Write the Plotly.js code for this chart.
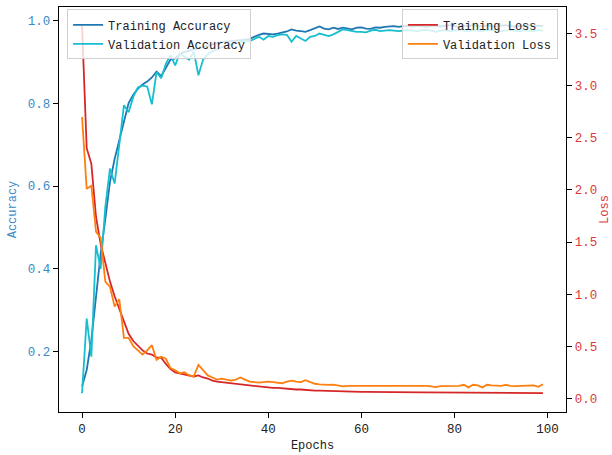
<!DOCTYPE html>
<html>
<head>
<meta charset="utf-8">
<script src="https://cdn.plot.ly/plotly-3.0.1.min.js"></script>
<style>html,body{margin:0;padding:0;background:#fff;}#chart{width:612px;height:455px;}</style>
</head>
<body>
<div id="chart"></div>
<script>
const epochs = Array.from({length: 100}, (_, i) => i);

const trainAcc = [0.116,0.156,0.228,0.333,0.437,0.52,0.61,0.665,0.71,0.76,
0.80,0.82,0.835,0.845,0.852,0.862,0.876,0.865,0.885,0.905,
0.908,0.918,0.924,0.926,0.93,0.933,0.937,0.94,0.943,0.945,
0.947,0.948,0.95,0.951,0.952,0.953,0.955,0.96,0.965,0.968,
0.967,0.966,0.968,0.971,0.973,0.978,0.975,0.974,0.972,0.976,
0.98,0.985,0.98,0.978,0.982,0.979,0.982,0.98,0.978,0.982,
0.983,0.98,0.979,0.983,0.982,0.984,0.985,0.986,0.984,0.986,
0.986,0.985,0.987,0.986,0.984,0.986,0.987,0.985,0.986,0.988,
0.986,0.985,0.987,0.986,0.988,0.985,0.986,0.987,0.986,0.985,
0.987,0.988,0.986,0.985,0.987,0.986,0.988,0.986,0.987,0.986];

const valAcc = [0.10,0.28,0.188,0.457,0.40,0.55,0.642,0.606,0.70,0.795,
0.778,0.815,0.838,0.842,0.84,0.797,0.875,0.86,0.895,0.916,
0.891,0.92,0.912,0.905,0.925,0.867,0.905,0.918,0.925,0.93,
0.935,0.94,0.942,0.945,0.948,0.95,0.95,0.955,0.96,0.953,
0.962,0.96,0.964,0.966,0.965,0.948,0.962,0.956,0.95,0.96,
0.962,0.968,0.965,0.962,0.966,0.972,0.978,0.976,0.974,0.972,
0.972,0.971,0.975,0.977,0.974,0.975,0.976,0.975,0.974,0.975,
0.976,0.975,0.974,0.976,0.977,0.975,0.972,0.975,0.976,0.974,
0.975,0.977,0.975,0.973,0.976,0.975,0.974,0.977,0.975,0.976,
0.974,0.975,0.977,0.975,0.973,0.976,0.975,0.974,0.976,0.975];

const trainLoss = [3.58,2.40,2.25,1.74,1.48,1.30,1.12,0.98,0.86,0.72,
0.62,0.55,0.50,0.46,0.43,0.42,0.39,0.39,0.33,0.28,
0.25,0.24,0.23,0.22,0.21,0.22,0.20,0.19,0.17,0.16,
0.155,0.15,0.14,0.135,0.13,0.13,0.125,0.12,0.115,0.11,
0.105,0.10,0.10,0.095,0.09,0.092,0.085,0.085,0.08,0.08,
0.075,0.074,0.072,0.07,0.07,0.068,0.067,0.066,0.065,0.064,
0.063,0.063,0.062,0.062,0.061,0.061,0.06,0.06,0.059,0.059,
0.058,0.058,0.058,0.057,0.057,0.057,0.056,0.056,0.056,0.055,
0.055,0.055,0.054,0.054,0.054,0.055,0.054,0.053,0.053,0.053,
0.052,0.053,0.052,0.052,0.056,0.053,0.052,0.051,0.051,0.05];

const valLoss = [2.70,2.01,2.04,1.60,1.54,1.12,1.07,0.88,0.95,0.58,
0.58,0.50,0.46,0.42,0.46,0.51,0.37,0.40,0.38,0.29,
0.27,0.24,0.25,0.22,0.21,0.32,0.27,0.22,0.20,0.18,
0.19,0.18,0.17,0.18,0.20,0.18,0.16,0.155,0.15,0.155,
0.16,0.155,0.15,0.145,0.16,0.17,0.16,0.155,0.175,0.16,
0.14,0.135,0.13,0.13,0.132,0.125,0.115,0.12,0.12,0.122,
0.12,0.118,0.12,0.122,0.118,0.12,0.121,0.119,0.12,0.118,
0.122,0.125,0.12,0.118,0.12,0.115,0.108,0.118,0.12,0.122,
0.118,0.12,0.13,0.105,0.13,0.125,0.105,0.13,0.125,0.12,
0.12,0.13,0.12,0.118,0.12,0.122,0.12,0.125,0.11,0.135];

const accTicks = [0.2, 0.4, 0.6, 0.8, 1.0];
const lossTicks = [0.0, 0.5, 1.0, 1.5, 2.0, 2.5, 3.0, 3.5];
const epochTicks = [0, 20, 40, 60, 80, 100];

const FONT = 'Liberation Mono, DejaVu Sans Mono, monospace';
const BLUE_TXT = '#3a8ac8';
const RED_TXT = '#dc3a3c';

const traces = [
  {x: epochs, y: trainAcc, name: 'Training Accuracy', mode: 'lines', line: {color: '#1f77b4', width: 1.8}, legend: 'legend', yaxis: 'y'},
  {x: epochs, y: valAcc, name: 'Validation Accuracy', mode: 'lines', line: {color: '#17becf', width: 1.8}, legend: 'legend', yaxis: 'y'},
  {x: epochs, y: trainLoss, name: 'Training Loss', mode: 'lines', line: {color: '#d62728', width: 1.8}, legend: 'legend2', yaxis: 'y2'},
  {x: epochs, y: valLoss, name: 'Validation Loss', mode: 'lines', line: {color: '#ff7f0e', width: 1.8}, legend: 'legend2', yaxis: 'y2'}
];

const layout = {
  width: 612, height: 455,
  margin: {l: 59, r: 46, t: 7, b: 43, pad: 0},
  paper_bgcolor: '#fff', plot_bgcolor: '#fff',
  font: {family: FONT, size: 12, color: '#222'},
  showlegend: true,
  xaxis: {
    range: [-4.95, 103.95], tickvals: epochTicks, ticks: 'outside', ticklen: 5, tickwidth: 1, tickcolor: '#000',
    showline: true, linecolor: '#000', linewidth: 1.2, mirror: true, showgrid: false, zeroline: false,
    tickfont: {family: FONT, size: 12.5, color: '#222'},
    title: {text: 'Epochs', font: {family: FONT, size: 12, color: '#222'}, standoff: 4}
  },
  yaxis: {
    range: [0.0546, 1.032], tickvals: accTicks, tickformat: '.1f', ticks: 'outside', ticklen: 5, tickwidth: 1, tickcolor: '#000',
    showline: true, linecolor: '#000', linewidth: 1.2, showgrid: false, zeroline: false,
    tickfont: {family: FONT, size: 12.5, color: BLUE_TXT},
    title: {text: 'Accuracy', font: {family: FONT, size: 12, color: BLUE_TXT}, standoff: 8}
  },
  yaxis2: {
    overlaying: 'y', side: 'right', anchor: 'x',
    range: [-0.131, 3.755], tickvals: lossTicks, tickformat: '.1f', ticks: 'outside', ticklen: 5, tickwidth: 1, tickcolor: '#000',
    showline: true, linecolor: '#000', linewidth: 1.2, showgrid: false, zeroline: false,
    tickfont: {family: FONT, size: 12.5, color: RED_TXT},
    title: {text: 'Loss', font: {family: FONT, size: 12, color: RED_TXT}, standoff: 8}
  },
  legend: {
    x: 0.016, y: 0.994, xanchor: 'left', yanchor: 'top',
    bgcolor: 'rgba(255,255,255,0.8)', bordercolor: '#d0d0d0', borderwidth: 1,
    font: {family: FONT, size: 12, color: '#222'}, tracegroupgap: 0
  },
  legend2: {
    x: 0.984, y: 0.994, xanchor: 'right', yanchor: 'top',
    bgcolor: 'rgba(255,255,255,0.8)', bordercolor: '#d0d0d0', borderwidth: 1,
    font: {family: FONT, size: 12, color: '#222'}, tracegroupgap: 0
  }
};

Plotly.newPlot('chart', traces, layout, {displayModeBar: false, staticPlot: true});
</script>
</body>
</html>
